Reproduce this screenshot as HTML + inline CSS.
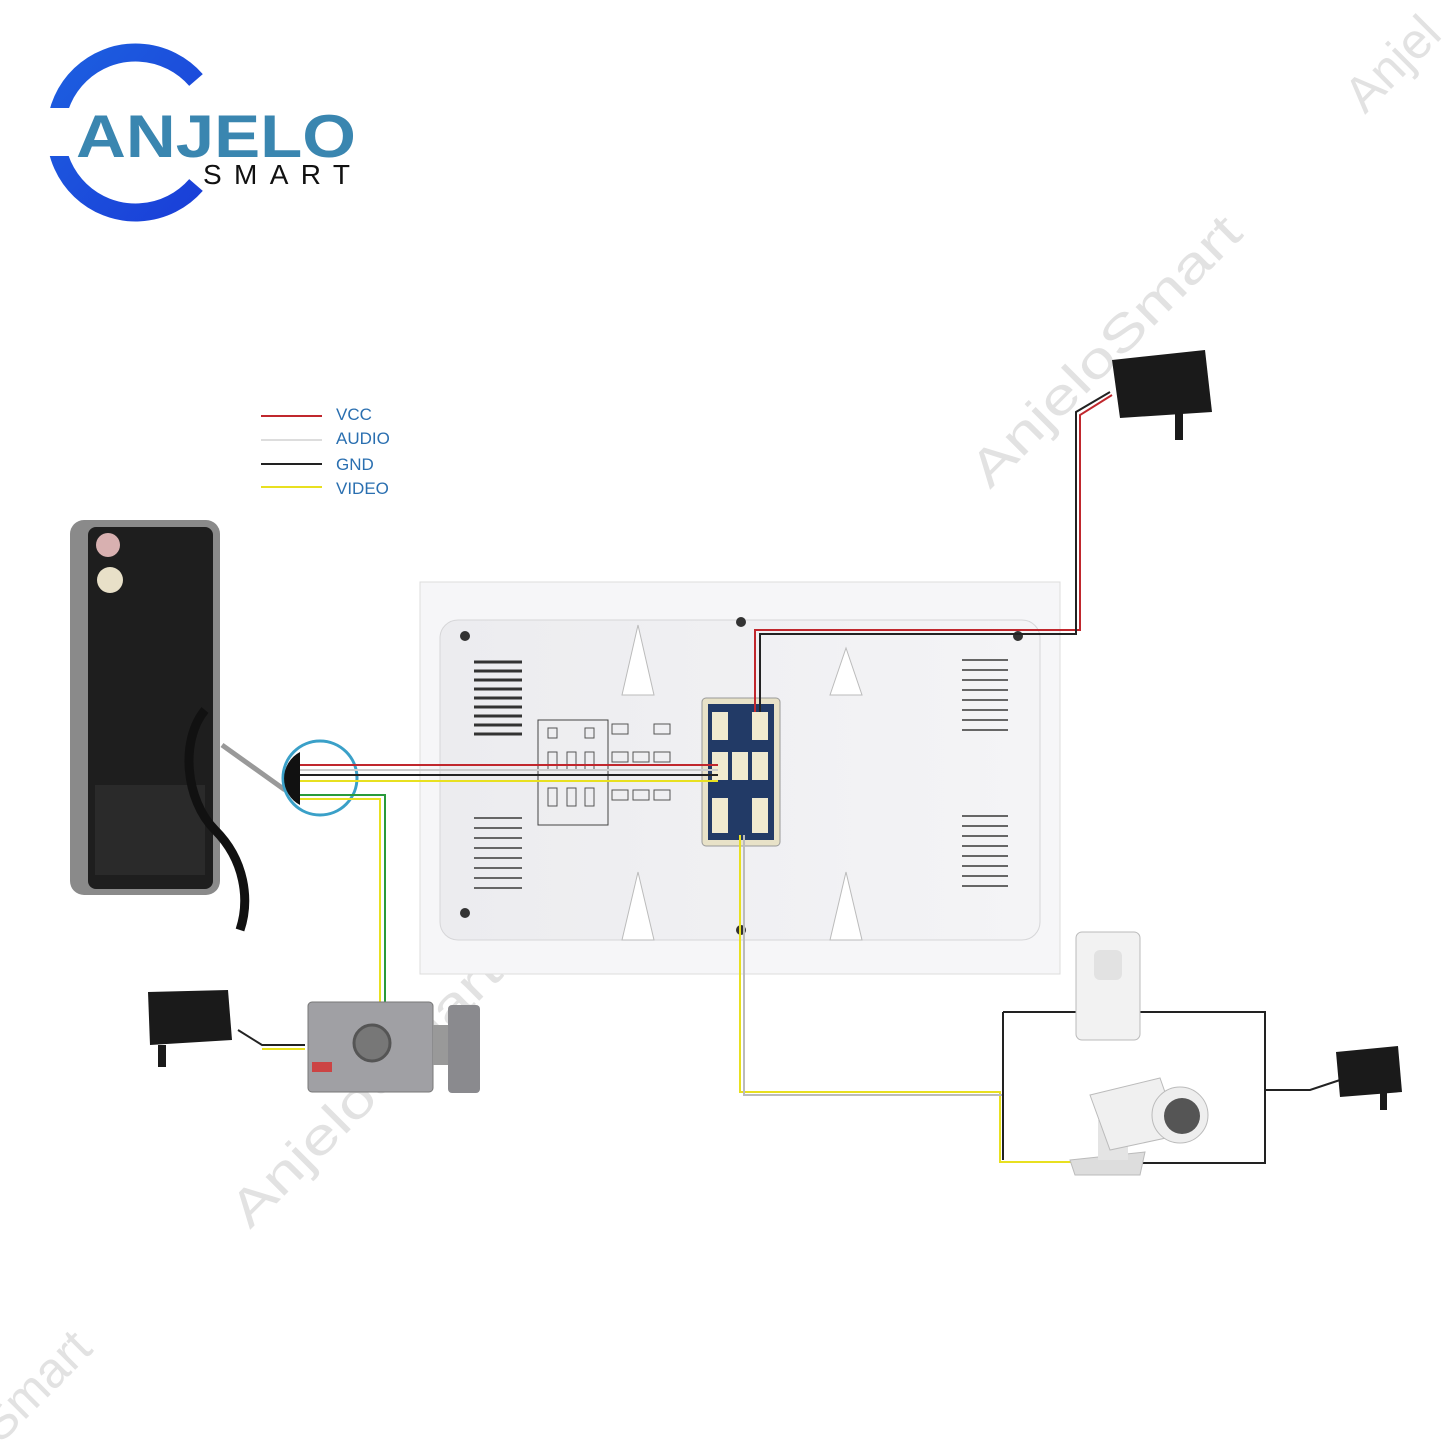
<!DOCTYPE html>
<html><head><meta charset="utf-8"><style>
html,body{margin:0;padding:0;background:#fff}
svg{display:block}
text{font-family:"Liberation Sans",sans-serif}
</style></head><body>
<svg width="1445" height="1445" viewBox="0 0 1445 1445">
<defs>
<linearGradient id="bl" x1="0" y1="0" x2="1" y2="1"><stop offset="0" stop-color="#1d5fe0"/><stop offset="1" stop-color="#1a3fd8"/></linearGradient>
<linearGradient id="mon" x1="0" y1="0" x2="1" y2="0"><stop offset="0" stop-color="#ececef"/><stop offset="1" stop-color="#f4f4f6"/></linearGradient>
</defs>
<!-- logo -->
<path d="M196 80 A80 80 0 1 0 196 185" fill="none" stroke="url(#bl)" stroke-width="18"/>
<rect x="40" y="108" width="40" height="48" fill="#fff"/>
<text x="76" y="157" font-size="60" font-weight="bold" fill="#3a86b0" textLength="280" lengthAdjust="spacingAndGlyphs">ANJELO</text>
<text x="203" y="184" font-size="28" fill="#111" textLength="147" lengthAdjust="spacing">SMART</text>
<!-- watermark -->
<g font-size="50" fill="#e2e2e2" font-family="Liberation Serif">
<text transform="translate(990,490) rotate(-45)" textLength="360" lengthAdjust="spacingAndGlyphs">AnjeloSmart</text>
<text transform="translate(1365,115) rotate(-45)">Anjel</text>
<text transform="translate(250,1230) rotate(-45)" textLength="360" lengthAdjust="spacingAndGlyphs">AnjeloSmart</text>
<text transform="translate(0,1445) rotate(-45)">Smart</text>
</g>
<!-- legend -->
<line x1="261" y1="416" x2="322" y2="416" stroke="#c0272d" stroke-width="2"/>
<line x1="261" y1="440" x2="322" y2="440" stroke="#ddd" stroke-width="2"/>
<line x1="261" y1="464" x2="322" y2="464" stroke="#222" stroke-width="2"/>
<line x1="261" y1="487" x2="322" y2="487" stroke="#e8e020" stroke-width="2"/>
<g font-size="17" fill="#2a6fb0"><text x="336" y="420">VCC</text><text x="336" y="444">AUDIO</text><text x="336" y="470">GND</text><text x="336" y="494">VIDEO</text></g>
<!-- door station -->
<rect x="70" y="520" width="150" height="375" rx="14" fill="#8a8a8a"/>
<rect x="88" y="527" width="125" height="362" rx="8" fill="#1e1e1e"/>
<circle cx="108" cy="545" r="12" fill="#d8b0b0"/><circle cx="110" cy="580" r="13" fill="#e8e0c8"/>
<rect x="95" y="785" width="110" height="90" fill="#2a2a2a"/>
<path d="M205 710 C180 740 185 800 215 830 C245 860 250 900 240 930" fill="none" stroke="#111" stroke-width="9"/>
<path d="M222 745 L285 790" stroke="#999" stroke-width="5"/>
<!-- circle zoom -->
<circle cx="320" cy="778" r="37" fill="#fff" stroke="#3aa0c8" stroke-width="3"/>
<path d="M300 752 A30 30 0 0 0 300 805 Z" fill="#111"/>
<!-- monitor -->
<rect x="420" y="582" width="640" height="392" fill="#f6f6f8" stroke="#ddd"/>
<rect x="440" y="620" width="600" height="320" rx="18" fill="url(#mon)" stroke="#d6d6d8"/>
<g fill="#333">
<circle cx="465" cy="636" r="5"/><circle cx="1018" cy="636" r="5"/><circle cx="465" cy="913" r="5"/><circle cx="741" cy="622" r="5"/><circle cx="741" cy="930" r="5"/>
</g>
<g stroke="#333" stroke-width="3">
<line x1="474" y1="662" x2="522" y2="662"/><line x1="474" y1="671" x2="522" y2="671"/><line x1="474" y1="680" x2="522" y2="680"/><line x1="474" y1="689" x2="522" y2="689"/><line x1="474" y1="698" x2="522" y2="698"/><line x1="474" y1="707" x2="522" y2="707"/><line x1="474" y1="716" x2="522" y2="716"/><line x1="474" y1="725" x2="522" y2="725"/><line x1="474" y1="734" x2="522" y2="734"/>
</g>
<g stroke="#666" stroke-width="2">
<line x1="474" y1="818" x2="522" y2="818"/><line x1="474" y1="828" x2="522" y2="828"/><line x1="474" y1="838" x2="522" y2="838"/><line x1="474" y1="848" x2="522" y2="848"/><line x1="474" y1="858" x2="522" y2="858"/><line x1="474" y1="868" x2="522" y2="868"/><line x1="474" y1="878" x2="522" y2="878"/><line x1="474" y1="888" x2="522" y2="888"/>
<line x1="962" y1="660" x2="1008" y2="660"/><line x1="962" y1="670" x2="1008" y2="670"/><line x1="962" y1="680" x2="1008" y2="680"/><line x1="962" y1="690" x2="1008" y2="690"/><line x1="962" y1="700" x2="1008" y2="700"/><line x1="962" y1="710" x2="1008" y2="710"/><line x1="962" y1="720" x2="1008" y2="720"/><line x1="962" y1="730" x2="1008" y2="730"/>
<line x1="962" y1="816" x2="1008" y2="816"/><line x1="962" y1="826" x2="1008" y2="826"/><line x1="962" y1="836" x2="1008" y2="836"/><line x1="962" y1="846" x2="1008" y2="846"/><line x1="962" y1="856" x2="1008" y2="856"/><line x1="962" y1="866" x2="1008" y2="866"/><line x1="962" y1="876" x2="1008" y2="876"/><line x1="962" y1="886" x2="1008" y2="886"/>
</g>
<g fill="#fff" stroke="#bbb"><path d="M622 695 L638 625 L654 695Z"/><path d="M830 695 L846 648 L862 695Z"/><path d="M622 940 L638 872 L654 940Z"/><path d="M830 940 L846 872 L862 940Z"/></g>
<rect x="538" y="720" width="70" height="105" fill="none" stroke="#444"/>
<g fill="none" stroke="#555"><rect x="548" y="728" width="9" height="10"/><rect x="585" y="728" width="9" height="10"/><rect x="612" y="724" width="16" height="10"/><rect x="654" y="724" width="16" height="10"/>
<rect x="548" y="752" width="9" height="18"/><rect x="567" y="752" width="9" height="18"/><rect x="585" y="752" width="9" height="18"/>
<rect x="548" y="788" width="9" height="18"/><rect x="567" y="788" width="9" height="18"/><rect x="585" y="788" width="9" height="18"/>
<rect x="612" y="752" width="16" height="10"/><rect x="633" y="752" width="16" height="10"/><rect x="654" y="752" width="16" height="10"/>
<rect x="612" y="790" width="16" height="10"/><rect x="633" y="790" width="16" height="10"/><rect x="654" y="790" width="16" height="10"/></g>
<rect x="702" y="698" width="78" height="148" rx="4" fill="#e8e2c8" stroke="#999"/>
<rect x="708" y="704" width="66" height="136" fill="#223a66"/>
<g fill="#f0ead0"><rect x="712" y="712" width="16" height="28"/><rect x="752" y="712" width="16" height="28"/><rect x="712" y="752" width="16" height="28"/><rect x="732" y="752" width="16" height="28"/><rect x="752" y="752" width="16" height="28"/><rect x="712" y="798" width="16" height="35"/><rect x="752" y="798" width="16" height="35"/></g>
<!-- wires -->
<g fill="none" stroke-width="2">
<path d="M300 765 L718 765" stroke="#c0272d"/>
<path d="M300 770 L718 770" stroke="#ccc"/>
<path d="M300 775 L718 775" stroke="#222"/>
<path d="M300 781 L718 781" stroke="#e8e020"/>
<path d="M300 795 L385 795 L385 1005" stroke="#2a9a3a"/>
<path d="M300 799 L380 799 L380 1005" stroke="#e8e020"/>
<path d="M755 712 L755 630 L1080 630 L1080 415 L1112 395" stroke="#c0272d"/>
<path d="M760 712 L760 634 L1076 634 L1076 412 L1110 392" stroke="#222"/>
<path d="M740 835 L740 1092 L1000 1092 L1000 1162 L1075 1162" stroke="#e8e020"/>
<path d="M744 835 L744 1095 L1004 1095" stroke="#bbb"/>
<path d="M238 1030 L262 1045 L305 1045" stroke="#222"/>
<path d="M262 1049 L305 1049" stroke="#e8e020"/>
</g>
<path d="M1003 1012 L1265 1012 L1265 1163 L1140 1163 M1003 1012 L1003 1160 M1265 1090 L1310 1090 L1340 1080" fill="none" stroke="#222" stroke-width="2"/>
<!-- adapters -->
<g fill="#1a1a1a">
<path d="M1112 360 L1205 350 L1212 412 L1120 418Z"/><rect x="1175" y="412" width="8" height="28"/>
<path d="M148 992 L228 990 L232 1040 L150 1045Z"/><rect x="158" y="1045" width="8" height="22"/>
<path d="M1336 1052 L1398 1046 L1402 1092 L1340 1097Z"/><rect x="1380" y="1092" width="7" height="18"/>
</g>
<!-- lock -->
<rect x="308" y="1002" width="125" height="90" rx="4" fill="#a0a0a4" stroke="#777"/>
<circle cx="372" cy="1043" r="18" fill="#777" stroke="#555" stroke-width="3"/>
<rect x="312" y="1062" width="20" height="10" fill="#c44"/>
<rect x="433" y="1025" width="18" height="40" fill="#999"/>
<rect x="448" y="1005" width="32" height="88" rx="4" fill="#8a8a8e"/>
<!-- PIR -->
<rect x="1076" y="932" width="64" height="108" rx="6" fill="#f2f2f2" stroke="#bbb"/>
<rect x="1094" y="950" width="28" height="30" rx="6" fill="#e2e2e2"/>
<!-- camera -->
<path d="M1070 1160 L1145 1152 L1140 1175 L1075 1175Z" fill="#ddd" stroke="#bbb"/>
<rect x="1098" y="1120" width="30" height="40" fill="#e4e4e4"/>
<path d="M1090 1095 L1160 1078 L1180 1135 L1110 1150Z" fill="#f0f0f0" stroke="#bbb"/>
<circle cx="1180" cy="1115" r="28" fill="#eee" stroke="#bbb"/>
<circle cx="1182" cy="1116" r="18" fill="#555"/>
</svg>
</body></html>
